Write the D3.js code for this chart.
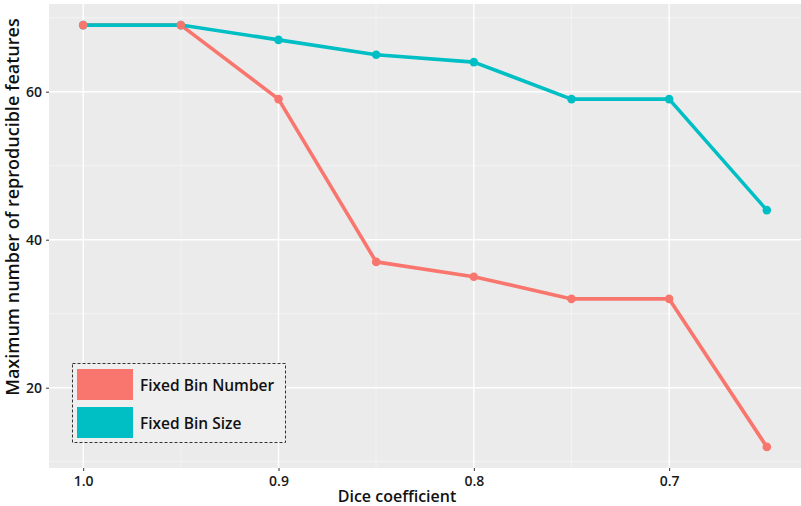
<!DOCTYPE html>
<html>
<head>
<meta charset="utf-8">
<script src="https://cdn.jsdelivr.net/npm/d3@7"></script>
<style>
  body { margin: 0; background: #fff; }
  svg text { font-family: "Open Sans", "Noto Sans", sans-serif; }
</style>
</head>
<body>
<svg></svg>
<script>
// dice coefficient thresholds (x axis is reversed)
const dice = [1.0, 0.95, 0.9, 0.85, 0.8, 0.75, 0.7, 0.65];
const fixedBinNumber = [69, 69, 59, 37, 35, 32, 32, 12];
const fixedBinSize = [69, 69, 67, 65, 64, 59, 59, 44];
const xTicks = [1.0, 0.9, 0.8, 0.7];
const xMinor = [0.95, 0.85, 0.75];
const yTicks = [20, 40, 60];
const yMinor = [10, 30, 50, 70];
const seriesNames = ["Fixed Bin Number", "Fixed Bin Size"];
const colors = ["#F8766D", "#00BFC4"];

const W = 801, H = 506;
const panel = { left: 49, top: 4, right: 801, bottom: 468 };

const svg = d3.select('svg')
    .attr('width', W)
    .attr('height', H);

// ggplot style 5% expansion
const xExp = (1.0 - 0.65) * 0.05;
const yExp = (69 - 12) * 0.05;
const xScale = d3.scaleLinear()
    .domain([1.0 + xExp, 0.65 - xExp])
    .range([panel.left, panel.right]);
const yScale = d3.scaleLinear()
    .domain([12 - yExp, 69 + yExp])
    .range([panel.bottom, panel.top]);

// panel background
svg.append('rect')
    .attr('x', panel.left)
    .attr('y', panel.top)
    .attr('width', panel.right - panel.left)
    .attr('height', panel.bottom - panel.top)
    .attr('fill', '#ebebeb');

const grid = svg.append('g');
// minor grid
grid.selectAll('.xminor').data(xMinor).enter().append('line')
    .attr('x1', d => xScale(d)).attr('x2', d => xScale(d))
    .attr('y1', panel.top).attr('y2', panel.bottom)
    .attr('stroke', '#f5f5f5').attr('stroke-width', 0.8);
grid.selectAll('.yminor').data(yMinor).enter().append('line')
    .attr('y1', d => yScale(d)).attr('y2', d => yScale(d))
    .attr('x1', panel.left).attr('x2', panel.right)
    .attr('stroke', '#f5f5f5').attr('stroke-width', 0.8);
// major grid
grid.selectAll('.xmajor').data(xTicks).enter().append('line')
    .attr('x1', d => xScale(d)).attr('x2', d => xScale(d))
    .attr('y1', panel.top).attr('y2', panel.bottom)
    .attr('stroke', '#ffffff').attr('stroke-width', 1.4);
grid.selectAll('.ymajor').data(yTicks).enter().append('line')
    .attr('y1', d => yScale(d)).attr('y2', d => yScale(d))
    .attr('x1', panel.left).attr('x2', panel.right)
    .attr('stroke', '#ffffff').attr('stroke-width', 1.4);

// axes
const xAxis = svg.append('g')
    .attr('transform', `translate(0, ${panel.bottom})`)
    .call(d3.axisBottom(xScale).tickValues(xTicks).tickFormat(d3.format('.1f')).tickSizeInner(3).tickSizeOuter(0).tickPadding(5));
const yAxis = svg.append('g')
    .attr('transform', `translate(${panel.left}, 0)`)
    .call(d3.axisLeft(yScale).tickValues(yTicks).tickSizeInner(3).tickSizeOuter(0).tickPadding(4));
[xAxis, yAxis].forEach(a => {
    a.select('.domain').remove();
    a.selectAll('line').attr('stroke', '#333');
    a.selectAll('text')
        .attr('fill', '#1a1a1a')
        .style('font-size', '14px')
        .style('font-weight', '600');
});

// axis titles
svg.append('text')
    .attr('x', 397)
    .attr('y', 502)
    .attr('text-anchor', 'middle')
    .style('font-size', '16px')
    .style('font-weight', '600')
    .attr('fill', '#111')
    .text('Dice coefficient');

svg.append('text')
    .attr('transform', 'translate(19, 207) rotate(-90)')
    .attr('text-anchor', 'middle')
    .style('font-size', '18px')
    .style('font-weight', '600')
    .attr('fill', '#111')
    .text('Maximum number of reproducible features');

// lines and points
const series = [fixedBinNumber, fixedBinSize];
const line = d3.line()
    .x((d, i) => xScale(dice[i]))
    .y(d => yScale(d));

series.forEach((vals, s) => {
    svg.append('path')
        .datum(vals)
        .attr('d', line)
        .attr('fill', 'none')
        .attr('stroke', colors[s])
        .attr('stroke-width', 3.6)
        .attr('stroke-linejoin', 'round');
});

[1, 0].forEach(s => {
    svg.append('g').selectAll('circle')
        .data(series[s])
        .enter()
        .append('circle')
        .attr('cx', (d, i) => xScale(dice[i]))
        .attr('cy', d => yScale(d))
        .attr('r', 4.3)
        .attr('fill', colors[s]);
});

// legend
const legend = svg.append('g');
legend.append('rect')
    .attr('x', 72.5).attr('y', 363.5)
    .attr('width', 213).attr('height', 79)
    .attr('fill', '#efefef')
    .attr('stroke', '#333')
    .attr('stroke-width', 1)
    .attr('stroke-dasharray', '3,2');
seriesNames.forEach((name, i) => {
    legend.append('rect')
        .attr('x', 77).attr('y', 369 + i * 38)
        .attr('width', 56).attr('height', 31)
        .attr('fill', colors[i]);
    legend.append('text')
        .attr('x', 140).attr('y', 391 + i * 38)
        .style('font-size', '15.5px')
        .style('font-weight', '600')
        .attr('fill', '#111')
        .text(name);
});
</script>
</body>
</html>
